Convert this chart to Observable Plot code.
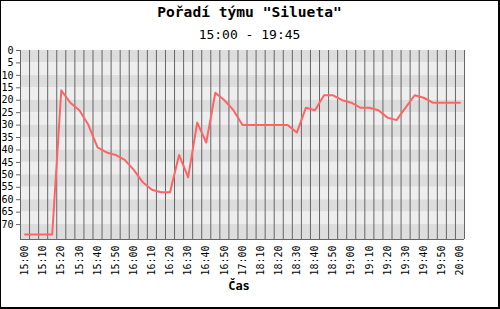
<!DOCTYPE html>
<html>
<head>
<meta charset="utf-8">
<script src="https://cdn.jsdelivr.net/npm/d3@7"></script>
<script src="https://cdn.jsdelivr.net/npm/@observablehq/plot@0.6"></script>
<style>
  html, body { margin: 0; padding: 0; background: #fff; }
  #frame {
    position: relative; box-sizing: border-box; width: 500px; height: 309px;
    border-left: 1px solid #000; border-top: 1px solid #000;
    border-right: 2px solid #000; border-bottom: 2px solid #000;
    background: #fff; overflow: hidden;
  }
  #title { position: relative; top: 2px; height: 24px; line-height: 24px; text-align: center; font: bold 14.6px "DejaVu Sans Mono", monospace; color: #000; }
  #subtitle { position: relative; top: 2px; height: 20px; line-height: 20px; text-align: center; font: 13px "DejaVu Sans Mono", monospace; color: #000; }
  #xlabel { margin-left: 19px; width: 438px; height: 14px; line-height: 14px; text-align: center; font: bold 12px "DejaVu Sans Mono", monospace; color: #000; }
  svg { display: block; }
</style>
</head>
<body>
<div id="frame">
  <div id="title">Pořadí týmu "Silueta"</div>
  <div id="subtitle">15:00 - 19:45</div>
  <div id="chart"></div>
  <div id="xlabel">Čas</div>
</div>
<script>
const times = [
  "15:00","15:05","15:10","15:15","15:20","15:25","15:30","15:35","15:40","15:45",
  "15:50","15:55","16:00","16:05","16:10","16:15","16:20","16:25","16:30","16:35",
  "16:40","16:45","16:50","16:55","17:00","18:05","18:10","18:15","18:20","18:25",
  "18:30","18:35","18:40","18:45","18:50","18:55","19:00","19:05","19:10","19:15",
  "19:20","19:25","19:30","19:35","19:40","19:45","19:50","19:55","20:00"
];
const rank = [
  74,74,74,74,16,21,24,30,39,41,
  42,44,48,53,56,57,57,42,51,29,
  37,17,20,24,30,30,30,30,30,30,
  33,23,24,18,18,20,21,23,23,24,
  27,28,23,18,19,21,21,21,21
];
const yTicks = [0,5,10,15,20,25,30,35,40,45,50,55,60,65,70];
const yMax = 76;

const idx = times.map((_, i) => i);
const xTicks = idx.filter(i => i % 2 === 0);
const xMin = -0.5, xMax = times.length - 0.5;
const bands = yTicks.map((t, k) => ({
  y1: t,
  y2: k === yTicks.length - 1 ? yMax : yTicks[k + 1],
  dark: k % 2 === 0
}));
const grid = idx.slice(0, -1).map(i => i + 0.5);
const data = idx.map(i => ({i, v: rank[i]}));

const chart = Plot.plot({
  width: 497,
  height: 234,
  marginTop: 5,
  marginBottom: 40,
  marginLeft: 19,
  marginRight: 34,
  style: {fontFamily: "'DejaVu Sans Mono', monospace", fontSize: "10px", color: "#000", background: "transparent"},
  x: {domain: [xMin, xMax], axis: null},
  y: {domain: [0, yMax], reverse: true, axis: null},
  marks: [
    Plot.rect(bands, {x1: xMin, x2: xMax, y1: "y1", y2: "y2", fill: d => d.dark ? "#dddddd" : "#eeeeee"}),
    Plot.ruleX(grid, {stroke: "#666666", strokeWidth: 1, strokeOpacity: 1}),
    Plot.ruleX([xMin, xMax], {stroke: "#666666", strokeWidth: 1, strokeOpacity: 1}),
    Plot.ruleY([yMax], {stroke: "#666666", strokeWidth: 1, strokeOpacity: 1}),
    Plot.axisY({ticks: yTicks, tickSize: 4, tickPadding: 3, stroke: "#666666", label: null, tickFormat: d => String(d)}),
    Plot.axisX({ticks: xTicks, tickSize: 0, tickPadding: 6, tickRotate: -90, label: null, tickFormat: d => times[d]}),
    Plot.line(data, {x: "i", y: "v", stroke: "#ff6464", strokeWidth: 2})
  ]
});
document.getElementById("chart").appendChild(chart);
</script>
</body>
</html>
